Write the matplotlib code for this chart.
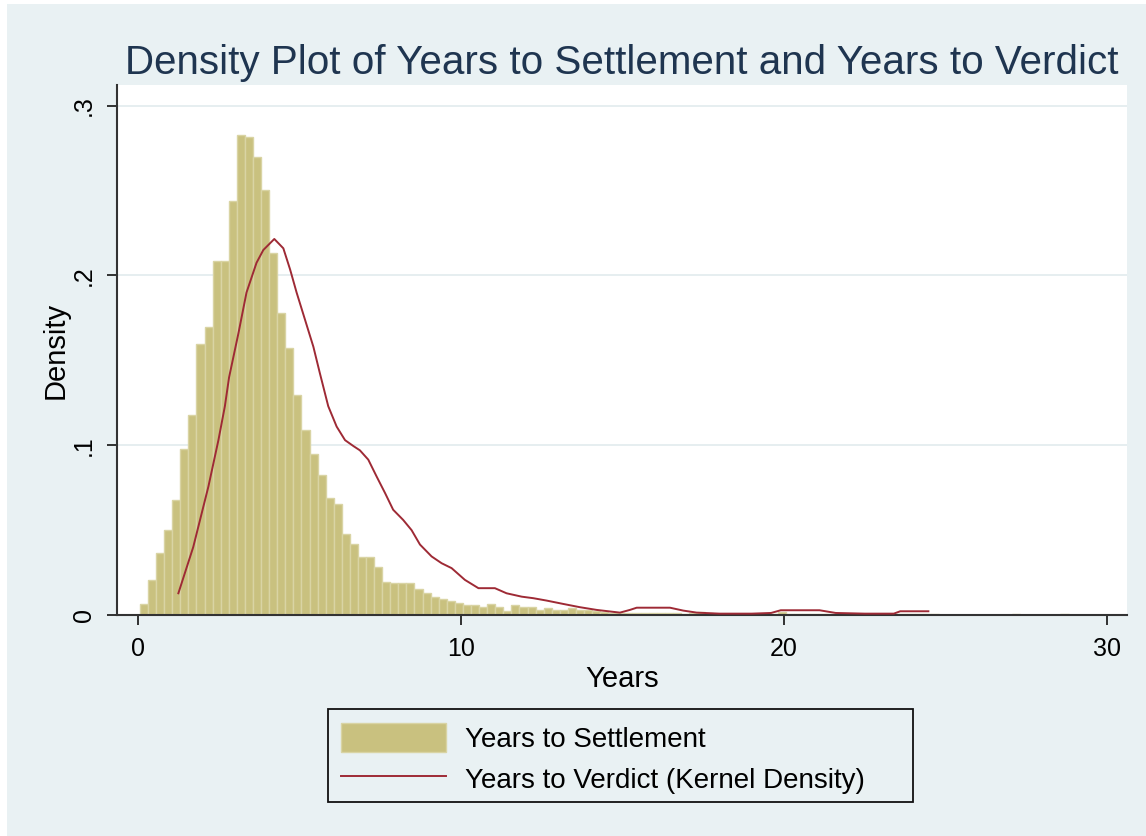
import matplotlib
matplotlib.use("Agg")
import matplotlib.pyplot as plt
from matplotlib.patches import Rectangle, Patch
from matplotlib.lines import Line2D
import numpy as np

plt.rcParams['font.family'] = ['Liberation Sans', 'DejaVu Sans']

# Histogram of years to settlement (density, bin width 0.25)
bin_start = 0.06
bin_width = 0.25
settle_density = [
    0.0065, 0.0207, 0.0364, 0.0498, 0.0678, 0.0978, 0.1178, 0.1598, 0.1698, 0.2088,
    0.2088, 0.2438, 0.2828, 0.2818, 0.2698, 0.2504, 0.2134, 0.1778, 0.1573, 0.1294,
    0.1092, 0.0946, 0.0822, 0.0690, 0.0655, 0.0478, 0.0419, 0.0344, 0.0344, 0.0285,
    0.0197, 0.0187, 0.0187, 0.0187, 0.0154, 0.0128, 0.0108, 0.0095, 0.0081, 0.0069,
    0.0061, 0.0061, 0.0049, 0.0065, 0.0049, 0.0026, 0.0061, 0.0049, 0.0049, 0.0029,
    0.0043, 0.0029, 0.0029, 0.0043, 0.0029, 0.0029, 0.0025, 0.0019, 0.0014, 0.0014,
    0.0012, 0.0012, 0.0009, 0.0009, 0.0012, 0.0009, 0.0009, 0.0006, 0.0009, 0.0019,
    0.0009, 0.0008, 0.0008, 0.0008, 0.0008, 0.0008, 0.0006, 0.0006, 0.0006, 0.0016,
    0.0006, 0.0006, 0.0006, 0.0006, 0.0006, 0.0006, 0.0006, 0.0, 0.0008, 0.0008,
    0.0008, 0.0, 0.0006, 0.0008, 0.0008, 0.0008, 0.0008, 0.0008, 0.0008, 0.0,
    0.0, 0.0, 0.0, 0.0, 0.0, 0.0, 0.0, 0.0, 0.0008, 0.0,
    0.0, 0.0, 0.0, 0.0, 0.0008,
]

# Kernel density of years to verdict
verdict_x = [1.25, 1.71, 2.18, 2.49, 2.69, 2.82, 3.11, 3.36, 3.67, 3.88, 4.22, 4.50,
             4.71, 4.91, 5.17, 5.43, 5.63, 5.89, 6.15, 6.41, 6.67, 6.87, 7.13, 7.39,
             7.65, 7.90, 8.21, 8.47, 8.73, 9.09, 9.40, 9.71, 10.12, 10.54, 11.05, 11.41,
             11.88, 12.24, 12.65, 13.17, 13.68, 14.2, 14.92, 15.23, 15.44, 16.47, 16.88,
             17.30, 18.0, 19.0, 19.6, 19.9, 21.1, 21.6, 22.5, 23.4, 23.6, 24.47]
verdict_y = [0.0128, 0.040, 0.0757, 0.103, 0.123, 0.140, 0.166, 0.190, 0.2075, 0.215,
             0.2215, 0.216, 0.2035, 0.190, 0.174, 0.158, 0.1425, 0.123, 0.111, 0.103,
             0.0995, 0.097, 0.0915, 0.0815, 0.0718, 0.062, 0.056, 0.050, 0.0415, 0.0345,
             0.0305, 0.0276, 0.0207, 0.0158, 0.0158, 0.0128, 0.0108, 0.0099, 0.0085,
             0.0065, 0.0046, 0.003, 0.0014, 0.003, 0.0043, 0.0043, 0.0026, 0.0014,
             0.0008, 0.0008, 0.0012, 0.0028, 0.0028, 0.0012, 0.0008, 0.0008, 0.0022,
             0.0022]

x_ticks = [0, 10, 20, 30]
y_ticks = [0, 0.1, 0.2, 0.3]
y_ticklabels = ['0', '.1', '.2', '.3']

bg = '#E9F1F3'
bar_fill = '#C9C17F'
bar_edge = '#D9D4A4'
line_col = '#9E2A35'
title_col = '#1F3550'

W, H = 1146, 836
fig = plt.figure(figsize=(W / 100, H / 100), dpi=100, facecolor='white')
fig.patches.append(Rectangle((7 / W, 0), 1, 1 - 4 / H, transform=fig.transFigure,
                             facecolor=bg, edgecolor='none', zorder=-10))

ax = fig.add_axes([117 / W, 1 - 615 / H, (1127 - 117) / W, (615 - 85) / H])
ax.set_facecolor('white')

lefts = bin_start + bin_width * np.arange(len(settle_density))
ax.bar(lefts, settle_density, width=bin_width, align='edge', color=bar_fill,
       edgecolor=bar_edge, linewidth=1.0, zorder=2)
ax.plot(verdict_x, verdict_y, color=line_col, linewidth=1.4, zorder=3)

ax.set_xlim(-0.65, 30.62)
ax.set_ylim(0, 0.3122)

ax.set_yticks(y_ticks)
ax.set_yticklabels(y_ticklabels, rotation=90, va='center')
ax.set_xticks(x_ticks)
ax.tick_params(axis='both', labelsize=18, length=7, width=1.3, color='#222222', direction='out')
ax.tick_params(axis='y', pad=8)
ax.tick_params(axis='x', pad=9)
ax.grid(axis='y', color='#E4EDEF', linewidth=1.3, zorder=0)
ax.set_axisbelow(True)

for s in ['top', 'right']:
    ax.spines[s].set_visible(False)
for s in ['left', 'bottom']:
    ax.spines[s].set_color('#333333')
    ax.spines[s].set_linewidth(1.5)

ax.set_xlabel('Years', fontsize=21, labelpad=3)
ax.set_ylabel('Density', fontsize=21, labelpad=2)
ax.set_title('Density Plot of Years to Settlement and Years to Verdict',
             fontsize=29.1, color=title_col, pad=8)

# legend box drawn separately so it can match the original width
fig.patches.append(Rectangle((328 / W, 1 - 802 / H), (913 - 328) / W, (802 - 709) / H,
                             transform=fig.transFigure, facecolor=bg,
                             edgecolor='#111111', linewidth=1.3, zorder=1))
handles = [Patch(facecolor=bar_fill, edgecolor=bar_edge),
           Line2D([0], [0], color=line_col, linewidth=1.4)]
fig.legend(handles, ['Years to Settlement', 'Years to Verdict (Kernel Density)'],
           loc='upper left', bbox_to_anchor=(322 / W, 1 - 704 / H), frameon=False,
           fontsize=20, handlelength=3.75, handleheight=1.2, handletextpad=0.7,
           labelspacing=0.4, borderpad=0.2)

fig.savefig('out.png', dpi=100, facecolor=fig.get_facecolor())
